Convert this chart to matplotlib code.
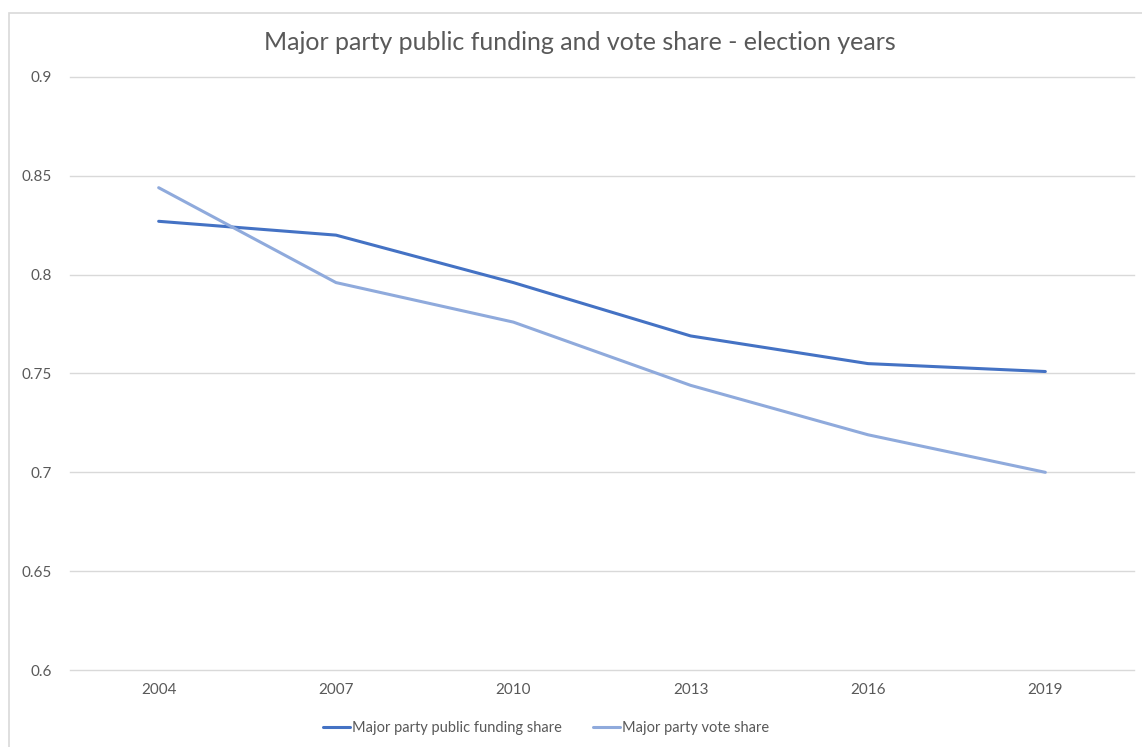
import matplotlib.pyplot as plt
from matplotlib.patches import Rectangle

years = ["2004", "2007", "2010", "2013", "2016", "2019"]
funding_share = [0.827, 0.820, 0.796, 0.769, 0.755, 0.751]
vote_share = [0.844, 0.796, 0.776, 0.744, 0.719, 0.700]
y_ticks = [0.6, 0.65, 0.7, 0.75, 0.8, 0.85, 0.9]
y_labels = ["0.6", "0.65", "0.7", "0.75", "0.8", "0.85", "0.9"]

plt.rcParams['font.family'] = ['Lato', 'DejaVu Sans']
grey = "#595959"

fig = plt.figure(figsize=(11.42, 7.47), dpi=100)
ax = fig.add_axes([70 / 1142, 1 - 670 / 747, (1134 - 70) / 1142, (670 - 77) / 747])

x = range(len(years))
ax.plot(x, funding_share, color="#4472C4", lw=2.2, label="Major party public funding share",
        solid_capstyle="round")
ax.plot(x, vote_share, color="#8FAADC", lw=2.2, label="Major party vote share",
        solid_capstyle="round")

ax.set_xlim(-0.5, 5.5)
ax.set_ylim(0.6, 0.9)
ax.set_yticks(y_ticks)
ax.set_yticklabels(y_labels)
ax.set_xticks(list(x))
ax.set_xticklabels(years)
ax.yaxis.grid(True, color="#D9D9D9", lw=1)
for g in ax.get_ygridlines():
    g.set_clip_on(False)
ax.set_axisbelow(True)
for s in ax.spines.values():
    s.set_visible(False)
ax.tick_params(length=0, colors=grey, labelsize=11)
ax.tick_params(axis="y", pad=13)
ax.tick_params(axis="x", pad=9)

fig.text(580 / 1142, 1 - 42 / 747, "Major party public funding and vote share - election years",
         ha="center", va="center", fontsize=18, color=grey)

leg = fig.legend(loc="center", bbox_to_anchor=(546 / 1142, 1 - 728 / 747), ncol=2,
                 frameon=False, fontsize=10.5, handlelength=1.85, handletextpad=0.15,
                 columnspacing=2.1)
for t in leg.get_texts():
    t.set_color(grey)

fig.patches.append(Rectangle((9 / 1142, -0.01), 1.1, 1 - 13 / 747 + 0.01, transform=fig.transFigure,
                             fill=False, edgecolor="#D9D9D9", lw=1.2))

fig.savefig("out.png", dpi=100)
